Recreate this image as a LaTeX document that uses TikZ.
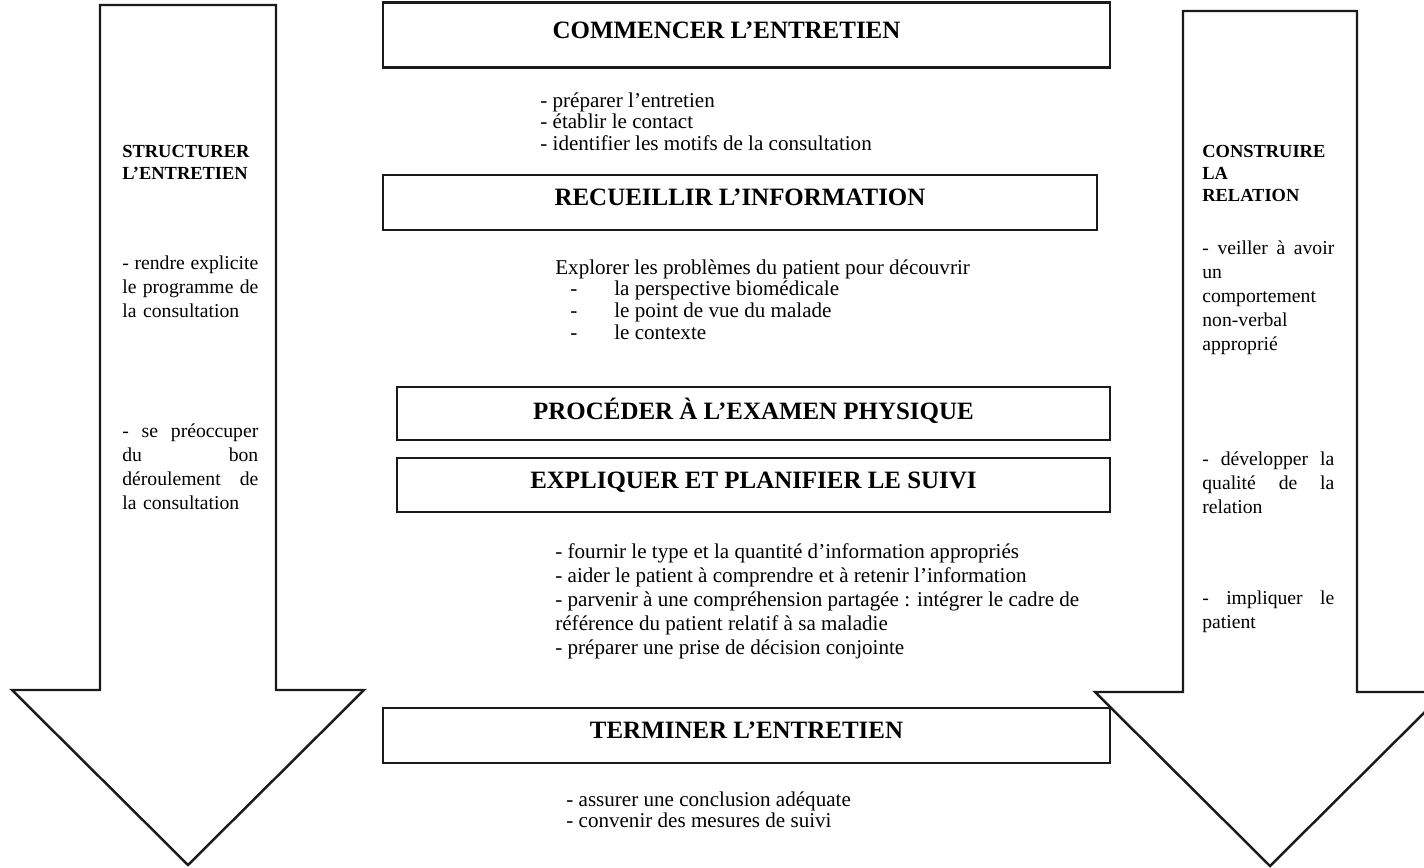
\documentclass[tikz,border=0pt]{standalone}
\usepackage{fontspec}
\setmainfont{Liberation Serif}
\usepackage{xcolor}
\usetikzlibrary{positioning}
\definecolor{trait}{HTML}{1A1A1A}
\newcommand{\ligne}[1]{\makebox[\hsize][s]{\spaceskip=0pt\xspaceskip=0pt #1}}
\tikzset{
  etape/.style={rectangle, draw=trait, line width=0.9pt, fill=white, text=black,
    font=\fontsize{14.2}{16}\selectfont\bfseries, inner sep=0pt, text depth=0.2cm},
  liste/.style={anchor=north west, inner sep=0pt, align=left,
    font=\fontsize{12}{12.5}\selectfont},
  colonne/.style={anchor=north west, inner sep=0pt, text width=2.72cm, align=left,
    font=\fontsize{11.2}{13.7}\selectfont},
  titrecol/.style={colonne, font=\fontsize{10.5}{12.5}\selectfont\bfseries},
  grossefleche/.style={draw=trait, line width=1.4pt, line join=miter},
}

\begin{document}
\begin{tikzpicture}[x=0.02cm, y=-0.02cm]
  \clip (0,0) rectangle (1424,868);

  % les deux grandes fleches laterales
  \draw[grossefleche] (100,5) -- (276,5) -- (276,690) -- (364,690) -- (188,865)
    -- (12,690) -- (100,690) -- cycle;
  \draw[grossefleche] (1183,11) -- (1357,11) -- (1357,692) -- (1445,692) -- (1270,866)
    -- (1095,692) -- (1183,692) -- cycle;

  % colonne de gauche
  \node[titrecol] (structurer) at (122,145) {STRUCTURER\\ L'ENTRETIEN};
  \node[colonne] (programme) at (122,255) {\ligne{- rendre explicite}\\
    \ligne{le programme de}\\ la consultation};
  \node[colonne] (deroulement) at (122,423) {\ligne{- se préoccuper}\\
    \ligne{du bon}\\ \ligne{déroulement de}\\ la consultation};

  % colonne de droite
  \node[titrecol, text width=2.64cm] (construire) at (1202,145) {CONSTRUIRE\\ LA\\ RELATION};
  \node[colonne, text width=2.64cm] (nonverbal) at (1202,240) {\ligne{- veiller à avoir}\\
    un\\ comportement\\ non-verbal\\ approprié};
  \node[colonne, text width=2.64cm] (qualite) at (1202,451) {\ligne{- développer la}\\
    \ligne{qualité de la}\\ relation};
  \node[colonne, text width=2.64cm] (impliquer) at (1202,590) {\ligne{- impliquer le}\\
    patient};

  % etapes centrales
  \node[etape, minimum width=14.54cm, minimum height=1.30cm, line width=1.3pt]
    (commencer) at (746.5,35) {COMMENCER L'ENTRETIEN\hspace*{0.8cm}};
  \node[liste] (contact) at (540,92) {- préparer l'entretien\\ - établir le contact\\
    - identifier les motifs de la consultation};

  \node[etape, minimum width=14.28cm, minimum height=1.10cm]
    (recueillir) at (740,202.5) {RECUEILLIR L'INFORMATION};
  \node[liste] (explorer) at (555,259) {Explorer les problèmes du patient pour découvrir\\
    \hspace*{0.3cm}\makebox[0.88cm][l]{-}la perspective biomédicale\\
    \hspace*{0.3cm}\makebox[0.88cm][l]{-}le point de vue du malade\\
    \hspace*{0.3cm}\makebox[0.88cm][l]{-}le contexte};

  \node[etape, minimum width=14.26cm, minimum height=1.06cm]
    (examen) at (753.5,413.5) {PROCÉDER À L'EXAMEN PHYSIQUE};
  \node[etape, minimum width=14.26cm, minimum height=1.08cm]
    (expliquer) at (753.5,485) {EXPLIQUER ET PLANIFIER LE SUIVI};
  \node[liste, font=\fontsize{12}{13.7}\selectfont] (suivi) at (555,543)
    {- fournir le type et la quantité d'information appropriés\\
    - aider le patient à comprendre et à retenir l'information\\
    - parvenir à une compréhension partagée : intégrer le cadre de\\
    référence du patient relatif à sa maladie\\
    - préparer une prise de décision conjointe};

  \node[etape, minimum width=14.54cm, minimum height=1.10cm]
    (terminer) at (746.5,735.5) {TERMINER L'ENTRETIEN};
  \node[liste] (conclusion) at (566,791) {- assurer une conclusion adéquate\\
    - convenir des mesures de suivi};
\end{tikzpicture}
\end{document}
